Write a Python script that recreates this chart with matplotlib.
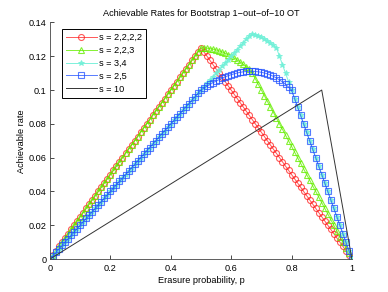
import matplotlib.pyplot as plt
import numpy as np

plt.rcParams['font.family'] = ['Liberation Sans', 'DejaVu Sans']

# erasure probability grid (0, 0.01, ..., 1)
p = np.round(np.arange(101) * 0.01, 2)

rate_2222 = [0, .0025, .005, .0075, .01, .0125, .015, .0175, .02, .0225,
             .025, .0275, .03, .0325, .035, .0375, .04, .0425, .045, .0475,
             .05, .0525, .055, .0575, .06, .0625, .065, .0675, .07, .0725,
             .075, .0775, .08, .0825, .085, .0875, .09, .0925, .095, .0975,
             .1, .1025, .105, .1075, .11, .1125, .115, .1175, .12, .1225,
             .125,
             .1225, .12, .1175, .115, .1125, .11, .1075, .105, .1025, .1,
             .0975, .095, .0925, .09, .0875, .085, .0825, .08, .0775, .075,
             .0725, .07, .0675, .065, .0625, .06, .0575, .055, .0525, .05,
             .0475, .045, .0425, .04, .0375, .035, .0325, .03, .0275, .025,
             .0225, .02, .0175, .015, .0125, .01, .0075, .005, .0025, 0]

rate_223 = [0, .0025, .005, .0075, .01, .0125, .015, .0175, .02, .0225,
            .025, .0275, .03, .0325, .035, .0375, .04, .0425, .045, .0475,
            .05, .0525, .055, .0575, .06, .0625, .065, .0675, .07, .0725,
            .075, .0775, .08, .0825, .085, .0875, .09, .0925, .095, .0975,
            .1, .1025, .105, .1075, .11, .1125, .115, .1175, .12, .1225,
            .125,
            .1249, .1248, .1245, .1242, .1238, .1232, .1226, .1218, .121, .12,
            .119, .1178, .1166, .1152, .1138, .1122, .11, .1067, .1033, .1,
            .0967, .0933, .09, .0867, .0833, .08, .0767, .0733, .07, .0667,
            .0633, .06, .0567, .0533, .05, .0467, .0433, .04, .0367, .0333,
            .03, .0267, .0233, .02, .0167, .0133, .01, .0067, .0033, 0]

rate_34 = [0, .002, .004, .006, .008, .01, .012, .014, .016, .018,
           .02, .022, .024, .026, .028, .03, .032, .034, .036, .038,
           .04, .042, .044, .046, .048, .05, .052, .054, .056, .058,
           .06, .062, .064, .066, .068, .07, .072, .074, .076, .078,
           .08, .082, .084, .086, .088, .09, .092, .094, .096, .098,
           .1, .102, .104, .106, .108, .11, .112, .114, .116, .118,
           .12, .122, .124, .126, .128, .13, .132,
           .1332, .1327, .132, .1312, .1303, .1292, .128, .1266, .125,
           .12, .115, .11, .105, .1,
           .095, .09, .085, .08, .075, .07, .065, .06, .055, .05,
           .045, .04, .035, .03, .025, .02, .015, .01, .005, 0]

rate_25 = [0, .002, .004, .006, .008, .01, .012, .014, .016, .018,
           .02, .022, .024, .026, .028, .03, .032, .034, .036, .038,
           .04, .042, .044, .046, .048, .05, .052, .054, .056, .058,
           .06, .062, .064, .066, .068, .07, .072, .074, .076, .078,
           .08, .082, .084, .086, .088, .09, .092, .094, .096, .098,
           .1,
           .1012, .1023, .1034, .1044, .1053, .1062, .107, .1078, .1085, .1091,
           .1096, .1101, .1105, .1108, .111, .1111, .1111, .111, .1108, .1105,
           .1101, .1096, .1089, .1081, .1071, .106, .1048, .1034, .1018, .1,
           .095, .09, .085, .08, .075, .07, .065, .06, .055, .05,
           .045, .04, .035, .03, .025, .02, .015, .01, .005, 0]

# s = 10 is a plain line through its corners
p_10 = [0, 0.9, 1]
rate_10 = [0, 0.1, 0]

fs = 6.6

fig = plt.figure(figsize=(3.88, 2.92), dpi=100)
ax = fig.add_axes([0.129, 0.113, 0.778, 0.81])

ax.plot(p, rate_2222, color='#ff2020', marker='o', mfc='none', ms=4.3,
        lw=0.7, mew=0.8, alpha=0.75, label='s = 2,2,2,2')
ax.plot(p, rate_223, color='#66ee00', marker='^', mfc='none', ms=4.8,
        lw=0.7, mew=0.8, alpha=0.8, label='s = 2,2,3')
ax.plot(p, rate_34, color='#70f0d8', marker='*', ms=3.8,
        lw=0.7, mew=0.6, alpha=0.9, label='s = 3,4')
ax.plot(p, rate_25, color='#2050ff', marker='s', mfc='none', ms=3.8,
        lw=0.7, mew=0.8, alpha=0.75, label='s = 2,5')
ax.plot(p_10, rate_10, color='#333333', lw=0.7, label='s = 10')

ax.set_xlim(0, 1)
ax.set_ylim(0, 0.14)
ax.set_xticks([0, 0.2, 0.4, 0.6, 0.8, 1])
ax.set_xticklabels(['0', '0.2', '0.4', '0.6', '0.8', '1'])
ax.set_yticks([0, 0.02, 0.04, 0.06, 0.08, 0.1, 0.12, 0.14])
ax.set_yticklabels(['0', '0.02', '0.04', '0.06', '0.08', '0.1', '0.12', '0.14'])
ax.tick_params(direction='in', length=3, width=0.5, labelsize=fs)
ax.tick_params(axis='x', pad=3.5)
ax.tick_params(axis='y', pad=2.4)
for side in ['top', 'right']:
    ax.spines[side].set_visible(False)
for side in ['left', 'bottom']:
    ax.spines[side].set_linewidth(0.6)
    ax.spines[side].set_color('#444444')

ax.set_title('Achievable Rates for Bootstrap 1\u2212out\u2212of\u221210 OT',
             fontsize=fs, pad=5)
ax.set_xlabel('Erasure probability, p', fontsize=fs, labelpad=2)
ax.set_ylabel('Achievable rate', fontsize=fs, labelpad=2)

leg = ax.legend(loc='upper left', fontsize=fs, fancybox=False,
                framealpha=1, edgecolor='black', borderpad=0.45,
                handlelength=3.3, handletextpad=0.3, labelspacing=0.42,
                borderaxespad=0, bbox_to_anchor=(0.04, 0.9725))
leg.get_frame().set_linewidth(0.7)

fig.savefig('out.png', dpi=100)
